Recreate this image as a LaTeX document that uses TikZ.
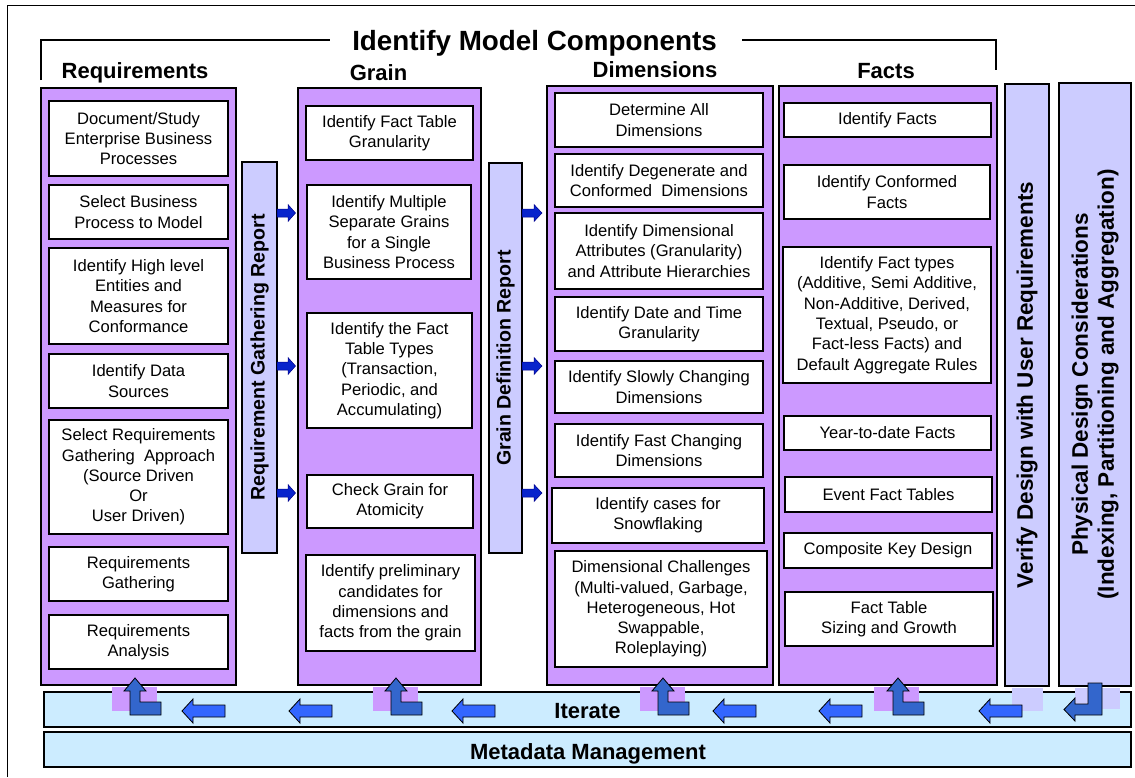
\documentclass[tikz,border=0pt]{standalone}
\usepackage{fontspec}
\setmainfont{Liberation Sans}
\definecolor{colpurple}{RGB}{204,153,255}
\definecolor{barlav}{RGB}{204,204,255}
\definecolor{itblue}{RGB}{204,236,255}
\definecolor{larrc}{RGB}{51,102,204}
\definecolor{lftc}{RGB}{51,102,255}
\definecolor{repc}{RGB}{8,36,204}
\newcommand{\boxfont}{\fontsize{16.6}{20.3}\selectfont}
\newcommand{\headfont}{\fontsize{22}{26}\selectfont\bfseries}
\newcommand{\titlefont}{\fontsize{27.8}{32}\selectfont\bfseries}
\newcommand{\repfont}{\fontsize{19.6}{23}\selectfont\bfseries}
\newcommand{\sidefont}{\fontsize{22.5}{26}\selectfont\bfseries}
\newcommand{\placebox}[7]{\node[#1, minimum width={#5-#3}, minimum height={#6-#4}] (#2) at ({(#3+#5)/2},{(#4+#6)/2}) {#7};}
\newcommand{\uparr}[1]{\draw[lshape] (#1,678) -- (#1+11,691) -- (#1+5,691) -- (#1+5,702) -- (#1+26,702) -- (#1+26,715) -- (#1-5,715) -- (#1-5,691) -- (#1-11,691) -- cycle;}
\newcommand{\lftarr}[1]{\draw[lftstyle] (#1,711) -- (#1+11,699) -- (#1+11,705) -- (#1+43,705) -- (#1+43,717) -- (#1+11,717) -- (#1+11,723) -- cycle;}
\newcommand{\coltab}[1]{\fill[colpurple] (#1-23,687) rectangle (#1+22,711);}
\begin{document}
\begin{tikzpicture}[x=1pt,y=-1pt,
  col/.style={draw=black, line width=2.2pt, fill=colpurple, inner sep=0pt, outer sep=0pt},
  lav/.style={draw=black, line width=2pt, fill=barlav, inner sep=0pt, outer sep=0pt},
  itbar/.style={draw=black, line width=2.2pt, fill=itblue, inner sep=0pt, outer sep=0pt},
  box/.style={draw=black, line width=1.8pt, fill=white, align=center, font=\boxfont, inner sep=0pt, outer sep=0pt},
  head/.style={anchor=base, font=\headfont},
  lshape/.style={draw=black, line width=0.8pt, fill=larrc},
  lftstyle/.style={draw=black, line width=0.8pt, fill=lftc},
  repstyle/.style={draw={rgb,255:red,0;green,0;blue,140}, line width=0.5pt, fill=repc}]
\useasboundingbox (0,0) rectangle (1135,777);
% frame
\draw[line width=0.8pt] (7,777) -- (7,5) -- (1135,5);
% title and bracket
\node[anchor=base, font=\titlefont] (title) at (534.5,50.5) {Identify Model Components};
\draw[line width=1.3pt] (41,80) -- (41,40) -- (330,40);
\draw[line width=1.3pt] (742,40) -- (996,40) -- (996,70);
% headers
\node[head] (hreq) at (135,78.5) {Requirements};
\node[head] (hgrain) at (378.5,80) {Grain};
\node[head] (hdim) at (655,77.5) {Dimensions};
\node[head] (hfact) at (886,78.5) {Facts};
% columns
\placebox{col}{req}{41}{88}{236}{685}{}
\placebox{col}{grain}{298}{88}{481}{685}{}
\placebox{col}{dims}{547}{86}{773}{685}{}
\placebox{col}{facts}{779}{86}{997}{685}{}
\placebox{lav}{verify}{1005}{84}{1049}{686}{}
\placebox{lav}{phys}{1059}{83}{1131}{686}{}
\placebox{lav}{rgr}{242}{162}{277}{553}{}
\placebox{lav}{gdr}{489}{163}{522}{553}{}
\node[rotate=90, font=\repfont] (rgrt) at (rgr) {Requirement Gathering Report};
\node[rotate=90, font=\repfont] (gdrt) at (gdr) {Grain Definition Report};
\node[rotate=90, font=\sidefont] (verifyt) at (verify) {Verify Design with User Requirements};
\node[rotate=90, font=\sidefont, align=center] (physt) at (phys) {Physical Design Considerations\\(Indexing, Partitioning and Aggregation)};
% requirements boxes
\placebox{box}{r1}{49}{101}{228}{176}{Document/Study\\Enterprise Business\\Processes}
\placebox{box}{r2}{49}{185}{228}{239}{Select Business\\Process to Model}
\placebox{box}{r3}{49}{248}{228}{344}{Identify High level\\Entities and\\Measures for\\Conformance}
\placebox{box}{r4}{49}{354}{228}{408}{Identify Data\\Sources}
\placebox{box}{r5}{49}{420}{228}{534}{Select Requirements\\Gathering\ \ Approach\\(Source Driven\\Or\\User Driven)}
\placebox{box}{r6}{49}{547}{228}{601}{Requirements\\Gathering}
\placebox{box}{r7}{49}{615}{228}{669}{Requirements\\Analysis}
% grain boxes
\placebox{box}{g1}{306}{106}{473}{160}{Identify Fact Table\\Granularity}
\placebox{box}{g2}{307}{185}{471}{279}{Identify Multiple\\Separate Grains\\for a Single\\Business Process}
\placebox{box}{g3}{307}{313}{472}{428}{Identify the Fact\\Table Types\\(Transaction,\\Periodic, and\\Accumulating)}
\placebox{box}{g4}{307}{475}{473}{528}{Check Grain for\\Atomicity}
\placebox{box}{g5}{306}{555}{475}{651}{Identify preliminary\\candidates for\\dimensions and\\facts from the grain}
% dimension boxes
\placebox{box}{d1}{555}{93}{763}{147}{Determine All\\Dimensions}
\placebox{box}{d2}{555}{154}{763}{207}{Identify Degenerate and\\Conformed\ \ Dimensions}
\placebox{box}{d3}{555}{213}{763}{289}{Identify Dimensional\\Attributes (Granularity)\\and Attribute Hierarchies}
\placebox{box}{d4}{555}{297}{763}{351}{Identify Date and Time\\Granularity}
\placebox{box}{d5}{555}{361}{763}{413}{Identify Slowly Changing\\Dimensions}
\placebox{box}{d6}{555}{424}{763}{477}{Identify Fast Changing\\Dimensions}
\placebox{box}{d7}{552}{488}{764}{543}{Identify cases for\\Snowflaking}
\placebox{box}{d8}{555}{551}{767}{667}{Dimensional Challenges\\(Multi-valued, Garbage,\\Heterogeneous, Hot\\Swappable,\\Roleplaying)}
% fact boxes
\placebox{box}{f1}{784}{103}{991}{137}{Identify Facts}
\placebox{box}{f2}{784}{165}{990}{219}{Identify Conformed\\Facts}
\placebox{box}{f3}{783}{247}{991}{383}{Identify Fact types\\(Additive, Semi Additive,\\Non-Additive, Derived,\\Textual, Pseudo, or\\Fact-less Facts) and\\Default Aggregate Rules}
\placebox{box}{f4}{784}{416}{991}{450}{Year-to-date Facts}
\placebox{box}{f5}{785}{477}{992}{512}{Event Fact Tables}
\placebox{box}{f6}{784}{533}{992}{568}{Composite Key Design}
\placebox{box}{f7}{785}{592}{993}{646}{Fact Table\\Sizing and Growth}
% report arrows
\coordinate (ya) at (0,213);
\coordinate (yb) at (0,366);
\coordinate (yc) at (0,493);
\foreach \p in {ya,yb,yc}{
  \draw[repstyle] (rgr.east |- \p) ++(0,-4) -- ++(11,0) -- ++(0,-4.5) -- ++(7.5,8.5) -- ++(-7.5,8.5) -- ++(0,-4.5) -- ++(-11,0) -- cycle;
  \draw[repstyle] (gdr.east |- \p) ++(0,-4) -- ++(12,0) -- ++(0,-4.5) -- ++(8,8.5) -- ++(-8,8.5) -- ++(0,-4.5) -- ++(-12,0) -- cycle;
}
% iterate and metadata bars
\placebox{itbar}{iter}{44}{692}{1131}{727}{}
\placebox{itbar}{meta}{44}{732}{1131}{767}{}
\node[anchor=base, font=\headfont] (itert) at (587.5,718) {Iterate};
\node[anchor=base, font=\headfont] (metat) at (588,759) {Metadata Management};
% tabs
\coltab{135}
\coltab{396}
\coltab{663}
\coltab{897}
\fill[barlav] (1012,688) rectangle (1043,711);
\fill[barlav] (1075,688) rectangle (1120,709);
% arrows in iterate bar
\uparr{135}
\uparr{396}
\uparr{663}
\uparr{898}
\lftarr{182}
\lftarr{289}
\lftarr{452}
\lftarr{713}
\lftarr{819}
\lftarr{979}
\draw[lshape] (1088,683) -- (1102,683) -- (1102,715) -- (1075,715) -- (1075,721) -- (1064,709.5) -- (1075,698) -- (1075,704) -- (1088,704) -- cycle;
\end{tikzpicture}
\end{document}
